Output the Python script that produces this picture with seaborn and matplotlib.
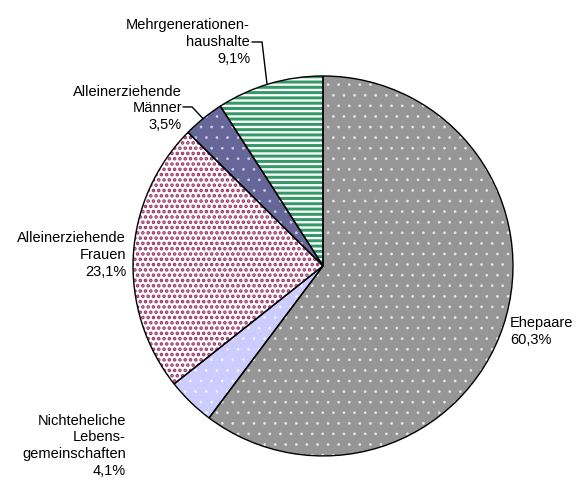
import matplotlib
matplotlib.use("Agg")
import matplotlib.pyplot as plt
import seaborn as sns

sns.set_theme(style="white")
plt.rcParams['font.family'] = ['Liberation Sans', 'DejaVu Sans']
plt.rcParams['text.color'] = 'black'

# data
labels = ["Ehepaare", "Nichteheliche\nLebens-\ngemeinschaften", "Alleinerziehende\nFrauen",
          "Alleinerziehende\nMänner", "Mehrgenerationen-\nhaushalte"]
values = [60.3, 4.1, 23.1, 3.5, 9.1]
pct_text = ["60,3%", "4,1%", "23,1%", "3,5%", "9,1%"]

# styles
face_cols = ["#969696", "#ccccff", "#ffffff", "#666699", "#ffffff"]
hatch_cols = ["#e8e8e8", "#f4f4ff", "#993366", "#d0d0e8", "#339966"]
hatches = ["..", "..", "....", "..", "----"]
hatch_lw = [0.3, 0.3, 1.4, 0.3, 1.7]

# hatch tiles are one inch wide, dpi 127 gives a denser pattern; sizes in pt are scaled back
DPI = 127
sc = 100 / DPI

fig, ax = plt.subplots(figsize=(582 / DPI, 481 / DPI), dpi=DPI)
fig.subplots_adjust(left=0, right=1, bottom=0, top=1)

wedges, _ = ax.pie(values, startangle=90, counterclock=False, radius=1,
                   colors=face_cols, wedgeprops=dict(linewidth=0))
for w, h, hc, hl in zip(wedges, hatches, hatch_cols, hatch_lw):
    w.set_hatch(h)
    w.set_edgecolor(hc)
    if hasattr(w, "set_hatch_linewidth"):
        w.set_hatch_linewidth(hl)

# outlines
ax.pie(values, startangle=90, counterclock=False, radius=1,
       colors=["none"] * 5, wedgeprops=dict(linewidth=1.0 * sc, edgecolor="black"))

ax.set_xlim(-1.7, 1.363)
ax.set_ylim(-1.132, 1.4)
ax.set_aspect("equal")
ax.axis("off")

fs = 10.5 * sc
txt = [l + "\n" + p for l, p in zip(labels, pct_text)]
kw = dict(fontsize=fs, linespacing=1.25, va="center")
ax.text(0.984, -0.347, txt[0], ha="left", **kw)
ax.text(-1.037, -0.947, txt[1], ha="right", **kw)
ax.text(-1.037, 0.058, txt[2], ha="right", **kw)
ax.text(-0.742, 0.829, txt[3], ha="right", **kw)
ax.text(-0.384, 1.179, txt[4], ha="right", **kw)

# leader lines
ax.plot([-0.374, -0.321, -0.295], [1.179, 1.179, 0.958], color="black", lw=1.0 * sc)
ax.plot([-0.737, -0.689, -0.632], [0.837, 0.837, 0.776], color="black", lw=1.0 * sc)

fig.savefig("out.png", dpi=DPI)
